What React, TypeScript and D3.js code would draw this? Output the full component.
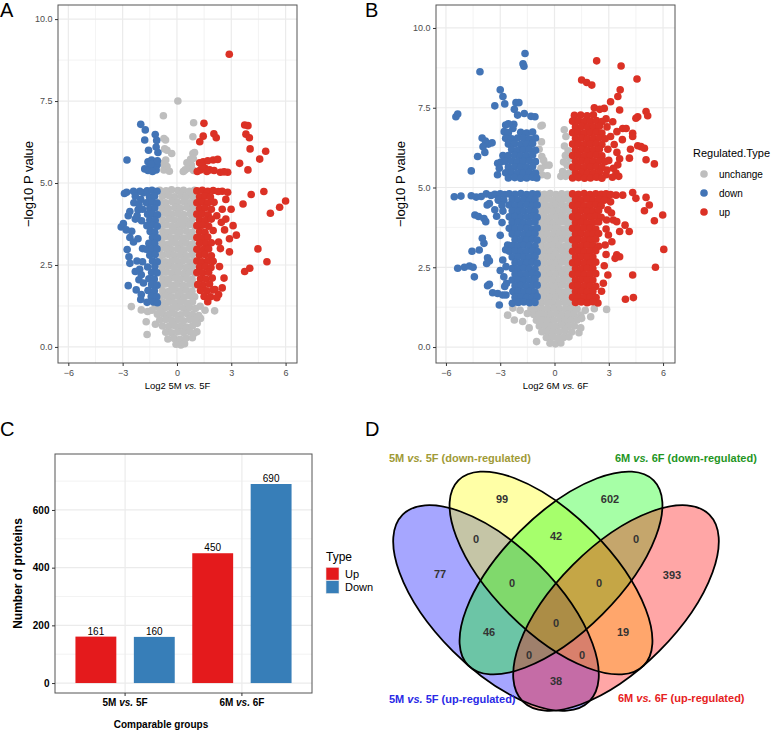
import { useEffect, useRef } from "react";
import * as d3 from "d3";

type Pt = [number, number];

// Panel A: 5M vs 5F  (log2 fold change, -log10 p)
const aUnchange: Pt[] = [
  [0.05, 7.5], [-0.75, 7.05], [0.92, 6.84], [0.88, 6.41], [-0.63, 6.31], [-0.72, 6.36], [-0.55, 6.0], [-0.68, 6.04],
  [-0.29, 5.9], [0.88, 5.9], [0.97, 5.93], [-0.72, 5.4], [-0.55, 5.5], [-0.8, 5.6], [-0.62, 5.7], [0.45, 5.4],
  [0.62, 5.45], [0.8, 5.55], [0.92, 5.38], [0.55, 5.62], [0.75, 5.72], [0.9, 5.75], [0.35, 5.35], [-0.42, 5.36],
  [-0.95, 4.78], [-0.6, 4.76], [-0.3, 4.79], [0.05, 4.77], [0.36, 4.78], [0.7, 4.75], [0.97, 4.78],
  [-0.8, 4.6], [-0.46, 4.62], [-0.14, 4.58], [0.21, 4.61], [0.52, 4.59], [0.85, 4.6],
  [-0.96, 4.42], [-0.62, 4.4], [-0.28, 4.44], [0.04, 4.41], [0.38, 4.43], [0.69, 4.4], [0.98, 4.44],
  [-0.79, 4.24], [-0.48, 4.22], [-0.12, 4.25], [0.19, 4.23], [0.54, 4.26], [0.86, 4.22],
  [-0.97, 4.06], [-0.63, 4.08], [-0.3, 4.05], [0.03, 4.07], [0.37, 4.04], [0.71, 4.07], [0.96, 4.05],
  [-0.81, 3.88], [-0.45, 3.9], [-0.15, 3.87], [0.2, 3.89], [0.51, 3.86], [0.84, 3.9],
  [-0.94, 3.7], [-0.61, 3.72], [-0.29, 3.69], [0.06, 3.71], [0.35, 3.7], [0.68, 3.73], [0.99, 3.69],
  [-0.78, 3.52], [-0.47, 3.5], [-0.13, 3.54], [0.18, 3.51], [0.53, 3.53], [0.83, 3.5],
  [-0.96, 3.34], [-0.64, 3.36], [-0.31, 3.33], [0.02, 3.35], [0.36, 3.32], [0.7, 3.36], [0.97, 3.33],
  [-0.8, 3.16], [-0.46, 3.14], [-0.14, 3.18], [0.2, 3.15], [0.52, 3.17], [0.85, 3.14],
  [-0.95, 2.98], [-0.62, 3.0], [-0.3, 2.97], [0.04, 2.99], [0.37, 2.96], [0.69, 3.0], [0.98, 2.97],
  [-0.79, 2.8], [-0.47, 2.82], [-0.13, 2.79], [0.19, 2.81], [0.53, 2.78], [0.84, 2.82],
  [-0.97, 2.62], [-0.63, 2.6], [-0.29, 2.63], [0.03, 2.61], [0.36, 2.64], [0.7, 2.6], [0.96, 2.63],
  [-0.81, 2.44], [-0.46, 2.46], [-0.15, 2.43], [0.2, 2.45], [0.51, 2.42], [0.85, 2.46],
  [-0.94, 2.26], [-0.61, 2.28], [-0.3, 2.25], [0.05, 2.27], [0.37, 2.24], [0.68, 2.28], [0.99, 2.25],
  [-0.78, 2.08], [-0.47, 2.06], [-0.12, 2.1], [0.18, 2.07], [0.53, 2.09], [0.84, 2.06],
  [-0.96, 1.9], [-0.64, 1.92], [-0.31, 1.89], [0.02, 1.91], [0.35, 1.88], [0.7, 1.92], [0.97, 1.89],
  [-0.8, 1.72], [-0.45, 1.7], [-0.14, 1.74], [0.21, 1.71], [0.52, 1.73], [0.83, 1.7],
  [-0.95, 1.54], [-0.62, 1.56], [-0.29, 1.53], [0.04, 1.55], [0.38, 1.52], [0.69, 1.56], [0.98, 1.53],
  [-0.79, 1.36], [-0.46, 1.38], [-0.13, 1.35], [0.19, 1.37], [0.54, 1.34], [0.86, 1.38],
  [-1.2, 1.22], [-0.95, 1.18], [-0.62, 1.2], [-0.3, 1.17], [0.03, 1.21], [0.36, 1.18], [0.7, 1.2], [1.02, 1.17], [1.28, 1.24],
  [-2.52, 1.23], [-1.97, 1.13], [-1.62, 1.08], [-1.38, 1.12], [1.55, 1.12], [2.08, 1.1],
  [-1.08, 1.0], [-0.79, 1.02], [-0.46, 0.99], [-0.13, 1.01], [0.2, 0.98], [0.53, 1.02], [0.86, 0.99], [1.2, 0.96],
  [-1.7, 0.77], [-1.19, 0.69], [1.3, 0.87], [1.12, 0.72], [1.1, 0.46],
  [-0.95, 0.82], [-0.62, 0.84], [-0.3, 0.81], [0.03, 0.83], [0.36, 0.8], [0.69, 0.84], [1.0, 0.81],
  [-0.8, 0.64], [-0.46, 0.62], [-0.13, 0.65], [0.2, 0.63], [0.53, 0.61], [0.85, 0.64],
  [-1.65, 0.38], [-0.62, 0.45], [-0.3, 0.43], [0.03, 0.46], [0.36, 0.44], [0.7, 0.47], [0.92, 0.4],
  [-0.5, 0.24], [-0.15, 0.26], [0.18, 0.23], [0.5, 0.27], [0.85, 0.28],
  [-0.05, 0.08], [0.22, 0.06], [0.42, 0.1],
];
const aDown: Pt[] = [
  [-2.0, 6.79], [-1.75, 6.62], [-1.2, 6.48], [-1.12, 6.3], [-1.78, 6.31], [-1.57, 6.0], [-1.05, 5.93], [-2.76, 5.7], [-1.15, 6.1],
  [-1.6, 5.65], [-1.4, 5.7], [-1.25, 5.62], [-1.1, 5.55], [-1.5, 5.5], [-1.3, 5.45], [-1.15, 5.4], [-1.78, 5.43],
  [-1.6, 5.38], [-1.35, 5.35], [-1.08, 5.68], [-1.45, 5.58],
  [-2.78, 4.72], [-2.9, 4.68], [-3.08, 3.66], [-2.96, 3.76], [-2.8, 3.57], [-2.69, 4.0], [-2.6, 4.13], [-2.38, 4.4],
  [-2.15, 4.18], [-2.5, 3.53], [-2.6, 3.34], [-2.75, 2.97], [-2.65, 2.75], [-2.6, 2.55], [-2.69, 1.87], [-2.25, 1.74],
  [-2.1, 2.05], [-2.21, 2.62], [-2.06, 2.37], [-1.97, 2.2], [-1.97, 1.6], [-2.3, 3.9], [-2.0, 4.5], [-1.9, 3.0],
  [-2.15, 3.3], [-1.85, 4.7], [-2.05, 4.75], [-2.4, 4.75], [-2.3, 4.6], [-2.1, 4.35], [-1.9, 4.2], [-2.2, 4.0],
  [-1.95, 3.85], [-2.4, 3.2], [-1.9, 2.6], [-2.3, 2.3], [-1.85, 1.95], [-2.0, 1.45],
  [-1.65, 4.76], [-1.38, 4.78], [-1.1, 4.75], [-1.52, 4.58], [-1.24, 4.6], [-1.68, 4.4], [-1.38, 4.42], [-1.1, 4.39],
  [-1.5, 4.22], [-1.22, 4.24], [-1.62, 4.05], [-1.36, 4.06], [-1.08, 4.03], [-1.5, 3.88], [-1.2, 3.86],
  [-1.66, 3.7], [-1.36, 3.71], [-1.09, 3.68], [-1.48, 3.52], [-1.22, 3.5], [-1.35, 3.34], [-1.08, 3.32],
  [-1.55, 3.16], [-1.22, 3.15], [-1.7, 2.98], [-1.38, 2.97], [-1.1, 2.99], [-1.5, 2.8], [-1.2, 2.82],
  [-1.35, 2.62], [-1.09, 2.6], [-1.62, 2.44], [-1.22, 2.45], [-1.4, 2.27], [-1.1, 2.26], [-1.55, 2.08], [-1.25, 2.07],
  [-1.4, 1.9], [-1.1, 1.88], [-1.6, 1.72], [-1.25, 1.71], [-1.42, 1.54], [-1.12, 1.53], [-1.65, 1.36], [-1.3, 1.37], [-1.08, 1.35],
];
const aUp: Pt[] = [
  [2.89, 8.93],
  [1.49, 6.82], [1.45, 6.43], [1.26, 6.26], [2.04, 6.5], [2.17, 6.38], [3.74, 6.77], [3.92, 6.75], [3.81, 6.49],
  [4.0, 6.38], [4.04, 6.04], [4.57, 5.73], [4.9, 5.97], [3.46, 5.6], [3.92, 5.4],
  [1.25, 5.62], [1.45, 5.65], [1.7, 5.68], [2.0, 5.7], [2.25, 5.72], [1.3, 5.4], [1.55, 5.45], [1.8, 5.4],
  [2.05, 5.38], [2.4, 5.33], [2.8, 5.33], [1.12, 5.35], [1.65, 5.35], [1.4, 5.52], [2.6, 5.34],
  [2.99, 4.2], [4.1, 4.65], [4.8, 4.74], [6.0, 4.45], [5.67, 4.26], [5.16, 4.08], [3.65, 4.36], [4.47, 2.99],
  [4.97, 2.6], [4.02, 2.4], [3.74, 2.3], [2.9, 2.9], [3.28, 3.41], [2.63, 3.57], [2.45, 3.8], [2.7, 4.5],
  [2.5, 4.75], [2.8, 4.72], [2.3, 3.2], [2.6, 2.1], [2.3, 1.6], [2.1, 1.75], [2.5, 4.2], [2.4, 3.0],
  [2.7, 3.9], [2.35, 2.45], [2.5, 1.8], [3.1, 3.7], [2.9, 3.3],
  [1.1, 4.76], [1.4, 4.78], [1.7, 4.75], [2.0, 4.77], [2.28, 4.74], [1.25, 4.58], [1.55, 4.6], [1.85, 4.57],
  [1.1, 4.4], [1.4, 4.42], [1.7, 4.39], [2.05, 4.41], [1.25, 4.22], [1.55, 4.24], [1.9, 4.2],
  [1.1, 4.05], [1.4, 4.06], [1.72, 4.03], [2.2, 4.0], [1.25, 3.88], [1.58, 3.86], [1.9, 3.9],
  [1.1, 3.7], [1.4, 3.71], [1.75, 3.68], [1.25, 3.52], [1.55, 3.5], [2.0, 3.55], [1.1, 3.34], [1.4, 3.32], [1.7, 3.35],
  [1.25, 3.16], [1.6, 3.15], [1.9, 3.18], [1.1, 2.98], [1.45, 2.97], [1.75, 2.99], [1.25, 2.8], [1.55, 2.82], [1.9, 2.78],
  [1.1, 2.62], [1.4, 2.6], [1.7, 2.63], [2.0, 2.61], [1.25, 2.44], [1.58, 2.45], [1.88, 2.42],
  [1.1, 2.27], [1.42, 2.26], [1.75, 2.28], [1.3, 2.08], [1.6, 2.07], [1.95, 2.1], [1.15, 1.9], [1.45, 1.88], [1.8, 1.92],
  [1.3, 1.72], [1.65, 1.71], [2.0, 1.74], [1.5, 1.54], [1.85, 1.53], [2.2, 1.5], [1.7, 1.38],
];

// Panel B: 6M vs 6F
const bUnchange: Pt[] = [
  [-0.75, 6.93], [-0.68, 6.95], [-0.72, 6.43], [-0.7, 5.97], [-0.5, 5.7], [-0.3, 5.7], [-0.4, 5.37], [-0.75, 5.6],
  [-0.7, 5.4], [-0.85, 6.2], [-0.6, 5.85], [0.54, 6.81], [0.63, 6.6], [0.55, 6.3], [0.6, 6.0], [0.7, 5.7],
  [0.8, 5.45], [0.45, 5.5], [0.5, 5.8], [0.75, 6.15], [0.85, 5.9], [0.35, 5.35], [0.62, 5.35],
  [-0.88, 4.8], [-0.56, 4.79], [-0.24, 4.81], [0.08, 4.78], [0.4, 4.8], [0.72, 4.79],
  [-0.72, 4.62], [-0.4, 4.63], [-0.08, 4.61], [0.24, 4.62], [0.56, 4.64], [0.86, 4.61],
  [-0.88, 4.44], [-0.56, 4.45], [-0.24, 4.43], [0.08, 4.44], [0.4, 4.46], [0.72, 4.43],
  [-0.72, 4.26], [-0.4, 4.27], [-0.08, 4.25], [0.24, 4.26], [0.56, 4.28], [0.86, 4.25],
  [-0.88, 4.08], [-0.56, 4.09], [-0.24, 4.07], [0.08, 4.08], [0.4, 4.1], [0.72, 4.07],
  [-0.72, 3.9], [-0.4, 3.91], [-0.08, 3.89], [0.24, 3.9], [0.56, 3.92], [0.86, 3.89],
  [-0.88, 3.72], [-0.56, 3.71], [-0.24, 3.73], [0.08, 3.72], [0.4, 3.7], [0.72, 3.73],
  [-0.72, 3.54], [-0.4, 3.55], [-0.08, 3.53], [0.24, 3.54], [0.56, 3.56], [0.86, 3.53],
  [-0.88, 3.36], [-0.56, 3.37], [-0.24, 3.35], [0.08, 3.36], [0.4, 3.38], [0.72, 3.35],
  [-0.72, 3.18], [-0.4, 3.17], [-0.08, 3.19], [0.24, 3.18], [0.56, 3.16], [0.86, 3.19],
  [-0.88, 3.0], [-0.56, 3.01], [-0.24, 2.99], [0.08, 3.0], [0.4, 3.02], [0.72, 2.99],
  [-0.72, 2.82], [-0.4, 2.83], [-0.08, 2.81], [0.24, 2.82], [0.56, 2.84], [0.86, 2.81],
  [-0.88, 2.64], [-0.56, 2.65], [-0.24, 2.63], [0.08, 2.64], [0.4, 2.66], [0.72, 2.63],
  [-0.72, 2.46], [-0.4, 2.45], [-0.08, 2.47], [0.24, 2.46], [0.56, 2.44], [0.86, 2.47],
  [-0.88, 2.28], [-0.56, 2.29], [-0.24, 2.27], [0.08, 2.28], [0.4, 2.3], [0.72, 2.27],
  [-0.72, 2.1], [-0.4, 2.11], [-0.08, 2.09], [0.24, 2.1], [0.56, 2.12], [0.86, 2.09],
  [-0.88, 1.92], [-0.56, 1.93], [-0.24, 1.91], [0.08, 1.92], [0.4, 1.94], [0.72, 1.91],
  [-0.72, 1.74], [-0.4, 1.75], [-0.08, 1.73], [0.24, 1.74], [0.56, 1.72], [0.86, 1.75],
  [-0.88, 1.56], [-0.56, 1.57], [-0.24, 1.55], [0.08, 1.56], [0.4, 1.58], [0.72, 1.55],
  [-0.72, 1.38], [-0.4, 1.39], [-0.08, 1.37], [0.24, 1.38], [0.56, 1.4], [0.86, 1.37],
  [-1.3, 1.2], [-1.0, 1.21], [-0.68, 1.19], [-0.36, 1.2], [-0.04, 1.22], [0.28, 1.19], [0.6, 1.2], [0.92, 1.21], [1.25, 1.19],
  [-1.15, 1.02], [-0.84, 1.03], [-0.52, 1.01], [-0.2, 1.02], [0.12, 1.04], [0.44, 1.01], [0.76, 1.02], [1.08, 1.03], [1.45, 1.0],
  [-1.0, 0.84], [-0.68, 0.85], [-0.36, 0.83], [-0.04, 0.84], [0.28, 0.86], [0.6, 0.83], [0.92, 0.84], [1.25, 0.85],
  [-0.84, 0.66], [-0.52, 0.67], [-0.2, 0.65], [0.12, 0.66], [0.44, 0.68], [0.76, 0.65], [1.1, 0.66],
  [-0.7, 0.48], [-0.38, 0.49], [-0.06, 0.47], [0.26, 0.48], [0.58, 0.5], [0.95, 0.47], [1.35, 0.45],
  [-0.45, 0.3], [-0.13, 0.31], [0.19, 0.29], [0.5, 0.3], [0.8, 0.32],
  [-0.25, 0.12], [0.05, 0.1], [0.35, 0.13],
  [2.88, 1.18], [-2.59, 1.0], [-2.22, 0.85], [-1.76, 0.8], [-0.99, 0.17], [1.5, 0.9], [2.0, 0.95], [2.2, 1.2],
  [-1.9, 1.15], [-1.5, 1.05], [-2.3, 1.22], [1.7, 1.15], [-1.4, 0.6], [1.45, 0.6],
];
const bDown: Pt[] = [
  [-1.63, 9.2], [-1.74, 8.88], [-1.69, 8.8], [-4.12, 8.63], [-3.0, 8.06], [-2.85, 7.85], [-3.3, 7.56], [-2.75, 7.62],
  [-5.45, 7.22], [-5.35, 7.3], [-2.13, 7.66], [-1.97, 7.66], [-2.22, 7.45], [-2.04, 7.27], [-1.67, 7.32], [-1.3, 7.23],
  [-1.08, 7.22], [-2.7, 6.96], [-2.78, 6.75], [-2.25, 6.98], [-2.3, 6.85], [-4.0, 6.55], [-3.82, 6.46], [-3.65, 6.36],
  [-3.45, 6.4], [-3.95, 6.28], [-4.25, 5.97], [-3.85, 6.1], [-4.6, 5.52], [-3.14, 5.76], [-2.96, 5.8], [-3.15, 5.4],
  [-3.05, 5.6], [-2.85, 6.0], [-2.55, 7.0],
  [-2.55, 6.72], [-1.87, 6.73], [-1.54, 6.71], [-1.21, 6.74],
  [-2.7, 6.54], [-2.37, 6.53], [-2.04, 6.55], [-1.71, 6.54], [-1.38, 6.52], [-1.05, 6.55],
  [-2.55, 6.36], [-2.2, 6.37], [-1.87, 6.35], [-1.54, 6.36], [-1.21, 6.38],
  [-2.37, 6.19], [-2.04, 6.17], [-1.71, 6.18], [-1.38, 6.2], [-1.05, 6.17],
  [-2.55, 6.0], [-2.2, 6.01], [-1.87, 5.99], [-1.54, 6.0], [-1.21, 6.02],
  [-2.7, 5.82], [-2.37, 5.83], [-2.04, 5.81], [-1.71, 5.82], [-1.38, 5.84], [-1.05, 5.81],
  [-2.55, 5.64], [-2.2, 5.65], [-1.87, 5.63], [-1.54, 5.64], [-1.21, 5.66],
  [-2.7, 5.46], [-2.37, 5.47], [-2.04, 5.45], [-1.71, 5.46], [-1.38, 5.48], [-1.05, 5.45],
  [-2.55, 5.3], [-2.2, 5.31], [-1.87, 5.29], [-1.54, 5.3], [-1.21, 5.32], [-0.98, 5.3],
  [-5.54, 4.71], [-5.17, 4.73], [-4.6, 4.74], [-4.33, 4.7], [-4.05, 4.72], [-3.77, 4.8], [-3.5, 4.75],
  [-4.4, 4.14], [-4.2, 4.09], [-3.9, 4.03], [-3.8, 3.93], [-3.72, 4.45], [-3.6, 4.5],
  [-3.99, 3.41], [-3.9, 3.25], [-4.56, 3.0], [-4.16, 3.04], [-3.7, 2.8], [-3.6, 2.7], [-3.75, 2.62],
  [-5.35, 2.47], [-4.98, 2.5], [-4.7, 2.54], [-4.43, 2.2], [-4.5, 2.5],
  [-3.7, 1.92], [-3.6, 1.97], [-3.42, 1.7], [-3.14, 1.68], [-2.86, 1.63], [-2.68, 1.63], [-3.05, 1.32], [-2.33, 1.37],
  [-2.86, 2.73], [-2.68, 2.52], [-2.59, 3.2], [-3.3, 4.3], [-3.1, 4.6], [-3.2, 4.1], [-2.9, 3.9], [-3.0, 3.5],
  [-2.8, 2.2], [-3.0, 2.4], [-2.75, 1.9], [-2.7, 3.05], [-2.65, 2.0],
  [-3.3, 4.79], [-3.0, 4.8], [-2.75, 4.78], [-2.5, 4.8], [-2.18, 4.79], [-1.86, 4.81], [-1.54, 4.78], [-1.22, 4.8], [-0.96, 4.79],
  [-3.1, 4.62], [-2.8, 4.6], [-2.34, 4.62], [-2.02, 4.61], [-1.7, 4.63], [-1.38, 4.6], [-1.08, 4.62],
  [-2.9, 4.44], [-2.5, 4.45], [-2.18, 4.43], [-1.86, 4.44], [-1.54, 4.46], [-1.22, 4.43], [-0.96, 4.45],
  [-2.85, 4.26], [-2.34, 4.27], [-2.02, 4.25], [-1.7, 4.26], [-1.38, 4.28], [-1.08, 4.25],
  [-2.5, 4.08], [-2.18, 4.09], [-1.86, 4.07], [-1.54, 4.08], [-1.22, 4.1], [-0.96, 4.07],
  [-2.34, 3.9], [-2.02, 3.91], [-1.7, 3.89], [-1.38, 3.9], [-1.08, 3.92],
  [-2.5, 3.72], [-2.18, 3.71], [-1.86, 3.73], [-1.54, 3.72], [-1.22, 3.7], [-0.96, 3.73],
  [-2.34, 3.54], [-2.02, 3.55], [-1.7, 3.53], [-1.38, 3.54], [-1.08, 3.56],
  [-2.18, 3.37], [-1.86, 3.35], [-1.54, 3.36], [-1.22, 3.38], [-0.96, 3.35],
  [-2.34, 3.18], [-2.02, 3.17], [-1.7, 3.19], [-1.38, 3.18], [-1.08, 3.16],
  [-2.5, 3.0], [-2.18, 3.01], [-1.86, 2.99], [-1.54, 3.0], [-1.22, 3.02], [-0.96, 2.99],
  [-2.34, 2.82], [-2.02, 2.83], [-1.7, 2.81], [-1.38, 2.82], [-1.08, 2.84],
  [-2.18, 2.65], [-1.86, 2.63], [-1.54, 2.64], [-1.22, 2.66], [-0.96, 2.63],
  [-2.34, 2.46], [-2.02, 2.45], [-1.7, 2.47], [-1.38, 2.46], [-1.08, 2.44],
  [-2.18, 2.29], [-1.86, 2.27], [-1.54, 2.28], [-1.22, 2.3], [-0.96, 2.27],
  [-2.34, 2.1], [-2.02, 2.11], [-1.7, 2.09], [-1.38, 2.1], [-1.08, 2.12],
  [-2.18, 1.92], [-1.86, 1.93], [-1.54, 1.91], [-1.22, 1.92], [-0.96, 1.94],
  [-2.3, 1.74], [-2.02, 1.75], [-1.7, 1.73], [-1.38, 1.74], [-1.08, 1.72],
  [-2.18, 1.56], [-1.86, 1.57], [-1.54, 1.55], [-1.22, 1.56], [-0.96, 1.58],
  [-2.0, 1.4], [-1.7, 1.41], [-1.38, 1.39], [-1.08, 1.4],
];
const bUp: Pt[] = [
  [2.33, 8.97], [3.68, 8.81], [4.56, 8.4], [1.5, 8.37], [1.78, 8.29], [2.06, 8.21], [3.63, 8.06], [3.5, 7.85],
  [3.1, 7.69], [3.6, 7.43], [5.06, 7.38], [5.15, 7.25], [4.5, 7.17], [4.6, 7.22], [2.2, 7.5], [2.5, 7.45],
  [2.75, 7.48], [3.22, 7.06], [3.77, 6.85], [3.96, 6.85], [4.32, 6.7], [4.32, 6.6], [4.6, 6.31], [4.78, 6.28],
  [4.97, 6.23], [5.06, 5.87], [5.52, 5.74], [4.14, 5.92], [3.5, 5.71], [3.4, 5.45], [2.85, 5.4], [4.2, 6.2],
  [2.9, 6.9], [3.1, 6.6], [3.3, 6.35], [2.95, 6.2], [3.45, 6.1], [3.0, 5.85], [3.6, 5.9], [3.25, 5.6],
  [2.9, 5.55], [3.55, 5.35], [3.2, 5.32], [3.75, 6.5], [3.45, 6.75], [2.85, 7.15],
  [1.1, 7.26], [1.45, 7.27], [1.8, 7.25], [2.15, 7.28],
  [1.0, 7.08], [1.33, 7.09], [1.66, 7.07], [1.99, 7.08], [2.32, 7.1], [2.62, 7.07],
  [1.16, 6.9], [1.5, 6.91], [1.83, 6.89], [2.16, 6.9], [2.48, 6.92],
  [1.0, 6.72], [1.33, 6.73], [1.66, 6.71], [1.99, 6.72], [2.32, 6.74], [2.62, 6.71],
  [1.16, 6.54], [1.5, 6.55], [1.83, 6.53], [2.16, 6.54], [2.48, 6.56], [2.8, 6.53],
  [1.0, 6.36], [1.33, 6.37], [1.66, 6.35], [1.99, 6.36], [2.32, 6.38], [2.62, 6.35],
  [1.16, 6.18], [1.5, 6.19], [1.83, 6.17], [2.16, 6.18], [2.48, 6.2],
  [1.0, 6.0], [1.33, 6.01], [1.66, 5.99], [1.99, 6.0], [2.32, 6.02], [2.62, 5.99],
  [1.16, 5.82], [1.5, 5.83], [1.83, 5.81], [2.16, 5.82], [2.48, 5.84], [2.8, 5.81],
  [1.0, 5.64], [1.33, 5.65], [1.66, 5.63], [1.99, 5.64], [2.32, 5.66], [2.62, 5.63],
  [1.16, 5.46], [1.5, 5.47], [1.83, 5.45], [2.16, 5.46], [2.48, 5.48],
  [1.0, 5.3], [1.33, 5.31], [1.66, 5.29], [1.99, 5.3], [2.32, 5.32], [2.62, 5.29],
  [3.4, 4.76], [3.77, 4.76], [4.32, 4.84], [4.5, 4.66], [5.06, 4.69], [5.24, 4.45], [4.97, 4.27], [5.52, 3.96], [5.98, 4.14],
  [2.88, 3.98], [3.25, 3.98], [3.44, 3.93], [3.9, 3.82], [4.13, 3.62], [3.6, 3.62],
  [2.98, 3.51], [3.17, 3.3], [3.44, 2.89], [3.6, 2.83], [3.35, 2.78], [2.95, 2.26], [4.32, 2.26], [5.58, 2.5],
  [6.04, 3.06], [3.92, 1.5], [4.36, 1.55], [2.4, 1.38], [1.94, 1.42],
  [2.9, 4.7], [3.1, 4.55], [2.95, 4.3], [3.15, 4.2], [2.85, 3.7], [2.8, 3.2], [2.85, 2.9], [2.75, 2.55], [2.7, 2.0], [2.6, 1.75],
  [1.0, 4.8], [1.32, 4.79], [1.64, 4.81], [1.96, 4.78], [2.28, 4.8], [2.58, 4.79], [2.85, 4.8], [3.1, 4.78],
  [1.16, 4.62], [1.48, 4.61], [1.8, 4.63], [2.12, 4.6], [2.44, 4.62], [2.75, 4.6],
  [1.0, 4.44], [1.32, 4.45], [1.64, 4.43], [1.96, 4.44], [2.28, 4.46], [2.58, 4.43],
  [1.16, 4.26], [1.48, 4.27], [1.8, 4.25], [2.12, 4.26], [2.44, 4.28],
  [1.0, 4.08], [1.32, 4.09], [1.64, 4.07], [1.96, 4.08], [2.28, 4.1], [2.58, 4.07],
  [1.16, 3.9], [1.48, 3.91], [1.8, 3.89], [2.12, 3.9], [2.44, 3.92],
  [1.0, 3.72], [1.32, 3.71], [1.64, 3.73], [1.96, 3.72], [2.28, 3.7],
  [1.16, 3.54], [1.48, 3.55], [1.8, 3.53], [2.12, 3.54], [2.44, 3.56],
  [1.0, 3.36], [1.32, 3.37], [1.64, 3.35], [1.96, 3.36], [2.28, 3.38],
  [1.16, 3.18], [1.48, 3.17], [1.8, 3.19], [2.12, 3.18], [2.44, 3.16],
  [1.0, 3.0], [1.32, 3.01], [1.64, 2.99], [1.96, 3.0], [2.28, 3.02],
  [1.16, 2.82], [1.48, 2.83], [1.8, 2.81], [2.12, 2.82],
  [1.0, 2.64], [1.32, 2.65], [1.64, 2.63], [1.96, 2.64], [2.28, 2.66],
  [1.16, 2.46], [1.48, 2.45], [1.8, 2.47], [2.12, 2.46],
  [1.0, 2.28], [1.32, 2.29], [1.64, 2.27], [1.96, 2.28], [2.28, 2.3],
  [1.16, 2.1], [1.48, 2.11], [1.8, 2.09], [2.12, 2.1],
  [1.0, 1.92], [1.32, 1.93], [1.64, 1.91], [1.96, 1.92], [2.28, 1.9],
  [1.16, 1.74], [1.48, 1.75], [1.8, 1.73], [2.12, 1.74],
  [1.0, 1.56], [1.32, 1.57], [1.64, 1.55], [1.96, 1.56], [2.3, 1.55],
  [1.16, 1.4], [1.48, 1.41], [1.8, 1.39], [2.12, 1.42],
];

const volcanoXTicks = [-6, -3, 0, 3, 6];
const volcanoYTicks = [0, 2.5, 5, 7.5, 10];
const regulatedTypes = ["unchange", "down", "up"];
const regulatedColors = ["#BEBEBE", "#4274B6", "#DB3125"];

// Panel C
const groups = ["5M vs. 5F", "6M vs. 6F"];
const barTypes = ["Up", "Down"];
const barColors = ["#E41A1C", "#377EB8"];
const upCounts = [161, 450];
const downCounts = [160, 690];
const barYTicks = [0, 200, 400, 600];

// Panel D
const vennSets = ["5M vs. 5F (up-regulated)", "5M vs. 5F (down-regulated)", "6M vs. 6F (down-regulated)", "6M vs. 6F (up-regulated)"];
const vennFills = ["#0000FF", "#FFFF00", "#00FF00", "#FF0000"];
const vennLabelColors = ["#2a2ae6", "#a09a36", "#1f961f", "#e62222"];
// region counts, read left-to-right, top-to-bottom
const vennCounts = [99, 602, 0, 42, 0, 77, 0, 0, 393, 0, 46, 19, 0, 0, 38];

const FONT = "'Liberation Sans', Arial, Helvetica, sans-serif";

const vsParts = (s: string): [string, boolean][] =>
  s.split(/(vs\.)/).filter(p => p.length > 0).map(p => [p, p === "vs."] as [string, boolean]);

function addText(parent: any, x: number, y: number, parts: [string, boolean][], size: number, opts: any = {}) {
  const t = parent.append("text")
    .attr("x", x).attr("y", y)
    .attr("font-family", FONT)
    .attr("font-size", size)
    .attr("fill", opts.fill || "#000")
    .attr("text-anchor", opts.anchor || "start")
    .attr("font-weight", opts.bold ? "bold" : "normal");
  if (opts.transform) t.attr("transform", opts.transform);
  parts.forEach(([s, it]) => {
    t.append("tspan").attr("font-style", it ? "italic" : "normal").text(s);
  });
  return t;
}

function drawVolcano(root: any, cfg: any) {
  const { x0, y0, w, h, xd, yd, series, xTitle, yTitleX, letter, letterX } = cfg;
  const x = d3.scaleLinear().domain(xd).range([x0, x0 + w]);
  const y = d3.scaleLinear().domain(yd).range([y0 + h, y0]);
  const g = root.append("g");

  g.append("rect").attr("x", x0).attr("y", y0).attr("width", w).attr("height", h).attr("fill", "#fff");

  const xMinor = d3.pairs(volcanoXTicks).map(([a, b]) => (a + b) / 2);
  const yMinor = d3.pairs(volcanoYTicks).map(([a, b]) => (a + b) / 2);
  const grid = g.append("g").attr("stroke", "#EBEBEB");
  grid.selectAll(".vmin").data(xMinor).join("line")
    .attr("x1", (d: number) => x(d)).attr("x2", (d: number) => x(d)).attr("y1", y0).attr("y2", y0 + h).attr("stroke-width", 0.6);
  grid.selectAll(".hmin").data(yMinor).join("line")
    .attr("y1", (d: number) => y(d)).attr("y2", (d: number) => y(d)).attr("x1", x0).attr("x2", x0 + w).attr("stroke-width", 0.6);
  grid.selectAll(".vmaj").data(volcanoXTicks).join("line")
    .attr("x1", (d: number) => x(d)).attr("x2", (d: number) => x(d)).attr("y1", y0).attr("y2", y0 + h).attr("stroke-width", 1.2);
  grid.selectAll(".hmaj").data(volcanoYTicks).join("line")
    .attr("y1", (d: number) => y(d)).attr("y2", (d: number) => y(d)).attr("x1", x0).attr("x2", x0 + w).attr("stroke-width", 1.2);

  series.forEach((pts: Pt[], i: number) => {
    g.append("g").selectAll("circle").data(pts).join("circle")
      .attr("cx", (d: Pt) => x(d[0]))
      .attr("cy", (d: Pt) => y(d[1]))
      .attr("r", 3.8)
      .attr("fill", regulatedColors[i]);
  });

  g.append("rect").attr("x", x0).attr("y", y0).attr("width", w).attr("height", h)
    .attr("fill", "none").attr("stroke", "#555").attr("stroke-width", 1);

  const styleAxis = (a: any) => {
    a.select(".domain").remove();
    a.selectAll(".tick line").attr("stroke", "#333");
    a.selectAll("text").attr("fill", "#4D4D4D").attr("font-size", 9).attr("font-family", FONT);
  };
  g.append("g").attr("transform", `translate(${x0},0)`)
    .call(d3.axisLeft(y).tickValues(volcanoYTicks).tickSize(3).tickPadding(2.5).tickFormat(d3.format(".1f")))
    .call(styleAxis);
  g.append("g").attr("transform", `translate(0,${y0 + h})`)
    .call(d3.axisBottom(x).tickValues(volcanoXTicks).tickSize(3).tickPadding(3.5).tickFormat(d3.format("d")))
    .call(styleAxis);

  addText(g, yTitleX, y0 + h / 2, [["\u2212log10 P value", false]], 13, { anchor: "middle", transform: `rotate(-90,${yTitleX},${y0 + h / 2})` });
  addText(g, x0 + w / 2, 388.5, vsParts(xTitle), 9.5, { anchor: "middle" });
  addText(root, letterX, 17, [[letter, false]], 20);
}

export default function App() {
  const ref = useRef<SVGSVGElement>(null);

  useEffect(() => {
    const svg = d3.select(ref.current);
    svg.selectAll("*").remove();
    svg.append("rect").attr("width", 778).attr("height", 730).attr("fill", "#fff");

    // A & B: volcano plots
    drawVolcano(svg, {
      x0: 58, y0: 5, w: 239, h: 358, xd: [-6.57, 6.63], yd: [-0.49, 10.43],
      series: [aUnchange, aDown, aUp], xTitle: "Log2 5M vs. 5F", yTitleX: 32.5, letter: "A", letterX: 0,
    });
    drawVolcano(svg, {
      x0: 436, y0: 5, w: 239, h: 358, xd: [-6.55, 6.66], yd: [-0.5, 10.72],
      series: [bUnchange, bDown, bUp], xTitle: "Log2 6M vs. 6F", yTitleX: 404.5, letter: "B", letterX: 365,
    });

    // legend for volcano
    const leg = svg.append("g");
    addText(leg, 693, 157, [["Regulated.Type", false]], 11);
    regulatedTypes.forEach((t, i) => {
      const cy = 174 + i * 19;
      leg.append("circle").attr("cx", 704).attr("cy", cy).attr("r", 3.8).attr("fill", regulatedColors[i]);
      addText(leg, 719, cy + 3.5, [[t, false]], 10);
    });

    // C: bar chart
    const c = svg.append("g");
    const cx0 = 55, cy0 = 454, cw = 257, ch = 239;
    const xC = d3.scaleLinear().domain([0.4, 2.6]).range([cx0, cx0 + cw]);
    const yC = d3.scaleLinear().domain([-34.5, 794]).range([cy0 + ch, cy0]);
    c.append("rect").attr("x", cx0).attr("y", cy0).attr("width", cw).attr("height", ch).attr("fill", "#fff");
    const barMinor = d3.pairs(barYTicks).map(([a, b]) => (a + b) / 2).concat([700]);
    c.append("g").selectAll("line").data(barMinor).join("line")
      .attr("x1", cx0).attr("x2", cx0 + cw).attr("y1", (d: number) => yC(d)).attr("y2", (d: number) => yC(d))
      .attr("stroke", "#EBEBEB").attr("stroke-width", 0.6);
    c.append("g").selectAll("line").data(barYTicks).join("line")
      .attr("x1", cx0).attr("x2", cx0 + cw).attr("y1", (d: number) => yC(d)).attr("y2", (d: number) => yC(d))
      .attr("stroke", "#EBEBEB").attr("stroke-width", 1.2);
    c.append("g").selectAll("line").data(groups).join("line")
      .attr("x1", (_: string, i: number) => xC(i + 1)).attr("x2", (_: string, i: number) => xC(i + 1))
      .attr("y1", cy0).attr("y2", cy0 + ch)
      .attr("stroke", "#EBEBEB").attr("stroke-width", 1.2);

    const barData = groups.flatMap((gname, i) => [
      { g: i, type: 0, v: upCounts[i] },
      { g: i, type: 1, v: downCounts[i] },
    ]);
    const bw = 0.35;
    c.append("g").selectAll("rect").data(barData).join("rect")
      .attr("x", (d: any) => xC(d.g + 1 + (d.type === 0 ? -0.25 : 0.25) - bw / 2))
      .attr("width", xC(bw) - xC(0))
      .attr("y", (d: any) => yC(d.v))
      .attr("height", (d: any) => yC(0) - yC(d.v))
      .attr("fill", (d: any) => barColors[d.type]);
    barData.forEach((d: any) => {
      addText(c, xC(d.g + 1 + (d.type === 0 ? -0.25 : 0.25)), yC(d.v) - 2, [[String(d.v), false]], 10, { anchor: "middle" });
    });
    c.append("rect").attr("x", cx0).attr("y", cy0).attr("width", cw).attr("height", ch)
      .attr("fill", "none").attr("stroke", "#555").attr("stroke-width", 1);

    c.append("g").attr("transform", `translate(${cx0},0)`)
      .call(d3.axisLeft(yC).tickValues(barYTicks).tickSize(3).tickPadding(2.5).tickFormat(d3.format("d")))
      .call((a: any) => {
        a.select(".domain").remove();
        a.selectAll(".tick line").attr("stroke", "#333");
        a.selectAll("text").attr("fill", "#000").attr("font-size", 10).attr("font-weight", "bold").attr("font-family", FONT);
      });
    groups.forEach((gname, i) => {
      c.append("line").attr("x1", xC(i + 1)).attr("x2", xC(i + 1)).attr("y1", cy0 + ch).attr("y2", cy0 + ch + 3).attr("stroke", "#333");
      addText(c, xC(i + 1), 705.5, vsParts(gname), 10, { anchor: "middle", bold: true });
    });
    addText(c, 22, cy0 + ch / 2, [["Number of proteins", false]], 12, { anchor: "middle", bold: true, transform: `rotate(-90,22,${cy0 + ch / 2})` });
    addText(c, 161, 727.5, [["Comparable groups", false]], 10, { anchor: "middle", bold: true });

    addText(c, 326, 561, [["Type", false]], 12);
    barTypes.forEach((t, i) => {
      c.append("rect").attr("x", 326).attr("y", 567.3 + i * 13.4).attr("width", 13).attr("height", 12.8)
        .attr("fill", barColors[i]).attr("stroke", "#e6e6e6").attr("stroke-width", 0.6);
      addText(c, 345, 577.5 + i * 13.4, [[t, false]], 11);
    });
    addText(svg, 0, 436, [["C", false]], 20);

    // D: four-set Venn (ellipse geometry in page pixels)
    const d = svg.append("g");
    const ellipses = [
      { cx: 496, cy: 608, rx: 132, ry: 61, rot: 45 },
      { cx: 551, cy: 573, rx: 131, ry: 58.5, rot: 45 },
      { cx: 561, cy: 573, rx: 131, ry: 58.5, rot: -45 },
      { cx: 616, cy: 608, rx: 132, ry: 61, rot: -45 },
    ];
    ellipses.forEach((e, i) => {
      d.append("ellipse").attr("cx", e.cx).attr("cy", e.cy).attr("rx", e.rx).attr("ry", e.ry)
        .attr("transform", `rotate(${e.rot},${e.cx},${e.cy})`)
        .attr("fill", vennFills[i]).attr("fill-opacity", 0.35).attr("stroke", "none");
    });
    ellipses.forEach(e => {
      d.append("ellipse").attr("cx", e.cx).attr("cy", e.cy).attr("rx", e.rx).attr("ry", e.ry)
        .attr("transform", `rotate(${e.rot},${e.cx},${e.cy})`)
        .attr("fill", "none").attr("stroke", "#000").attr("stroke-width", 1.8);
    });
    const vennLabelPos: Pt[] = [
      [502, 499], [610, 499], [476, 539], [556, 536], [636, 539], [440, 574], [512, 583], [599, 583],
      [672, 575], [556, 623], [489, 632], [623, 632], [529, 655], [582, 655], [556, 681],
    ];
    vennCounts.forEach((v, i) => {
      addText(d, vennLabelPos[i][0], vennLabelPos[i][1] + 4, [[String(v), false]], 11, { anchor: "middle", bold: true, fill: "#333" });
    });
    const setLabelPos: Pt[] = [[389, 703], [389, 462], [615, 462], [618, 702]];
    vennSets.forEach((s, i) => {
      addText(d, setLabelPos[i][0], setLabelPos[i][1], vsParts(s), 11, { bold: true, fill: vennLabelColors[i] });
    });
    addText(svg, 365, 436, [["D", false]], 20);
  }, []);

  return (
    <svg ref={ref} width={778} height={730} style={{ position: "absolute", left: 0, top: 0 }} />
  );
}
